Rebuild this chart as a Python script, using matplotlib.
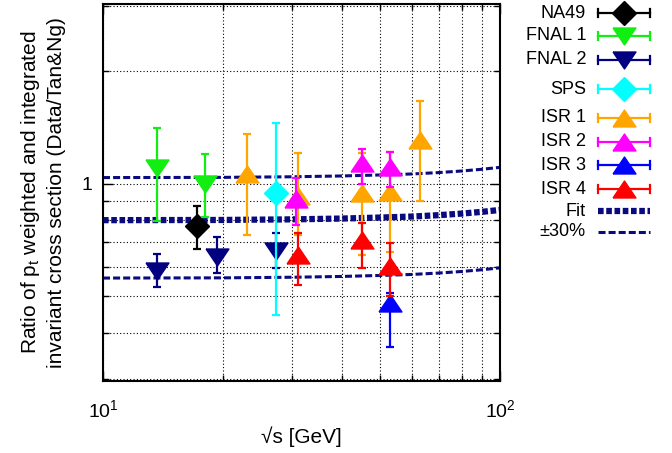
import matplotlib
matplotlib.use("Agg")
import numpy as np
from matplotlib import pyplot as plt
from matplotlib.ticker import LogLocator, FixedLocator, NullFormatter, FixedFormatter

plt.rcParams['font.family'] = ['Liberation Sans', 'DejaVu Sans']
plt.rcParams['mathtext.fontset'] = 'custom'
plt.rcParams['mathtext.rm'] = 'Liberation Sans'
plt.rcParams['mathtext.it'] = 'Liberation Sans:italic'

# data: sqrt(s), ratio, lower/upper error bar ends
na49_x = [17.2]
na49_y = [0.772]
na49_lo = [0.671]
na49_hi = [0.873]

fnal1_x = [13.7, 18.1]
fnal1_y = [1.10, 1.0]
fnal1_lo = [0.798, 0.818]
fnal1_hi = [1.41, 1.20]

fnal2_x = [13.7, 19.4, 27.3]
fnal2_y = [0.586, 0.639, 0.662]
fnal2_lo = [0.529, 0.577, 0.597]
fnal2_hi = [0.649, 0.719, 0.741]

sps_x = [27.3]
sps_y = [0.948]
sps_lo = [0.447]
sps_hi = [1.46]

isr1_x = [23.0, 30.9, 44.9, 52.8, 62.9]
isr1_y = [1.06, 0.93, 0.948, 0.954, 1.31]
isr1_lo = [0.729, 0.73, 0.646, 0.656, 0.90]
isr1_hi = [1.36, 1.21, 1.21, 1.22, 1.67]

isr2_x = [30.6, 44.9, 52.8]
isr2_y = [0.91, 1.136, 1.11]
isr2_lo = [0.777, 1.0, 0.983]
isr2_hi = [1.036, 1.24, 1.22]

isr3_x = [52.8]
isr3_y = [0.48]
isr3_lo = [0.367]
isr3_hi = [0.51]

isr4_x = [30.9, 44.9, 52.8]
isr4_y = [0.645, 0.708, 0.605]
isr4_lo = [0.537, 0.597, 0.50]
isr4_hi = [0.738, 0.785, 0.697]

fit_x = [10, 20, 30, 40, 50, 60, 70, 80, 90, 100]
fit_y = [0.800, 0.801, 0.804, 0.808, 0.813, 0.818, 0.825, 0.833, 0.842, 0.852]
band = 0.30

# gnuplot-like flat triangles
tri_up = [(-1, -0.74), (1, -0.74), (0, 0.74), (-1, -0.74)]
tri_dn = [(-1, 0.74), (1, 0.74), (0, -0.74), (-1, 0.74)]

series = [
    ("NA49", na49_x, na49_y, na49_lo, na49_hi, "black", "D"),
    ("FNAL 1", fnal1_x, fnal1_y, fnal1_lo, fnal1_hi, "#11ee11", tri_dn),
    ("FNAL 2", fnal2_x, fnal2_y, fnal2_lo, fnal2_hi, "#000080", tri_dn),
    ("SPS", sps_x, sps_y, sps_lo, sps_hi, "#00ffff", "D"),
    ("ISR 1", isr1_x, isr1_y, isr1_lo, isr1_hi, "#ffa500", tri_up),
    ("ISR 2", isr2_x, isr2_y, isr2_lo, isr2_hi, "#ff00ff", tri_up),
    ("ISR 3", isr3_x, isr3_y, isr3_lo, isr3_hi, "#0000ff", tri_up),
    ("ISR 4", isr4_x, isr4_y, isr4_lo, isr4_hi, "#ff0000", tri_up),
]

def msize(mk):
    return 11.8 if isinstance(mk, str) else 16.5

fs = 13
navy = "#0a0a80"
fit_style = dict(color=navy, lw=4.5, dashes=(0.9, 0.42))
band_style = dict(color=navy, lw=2.2, dashes=(2.3, 1.0))

fig = plt.figure(figsize=(6.72, 4.53), dpi=100)
ax = fig.add_axes([103 / 672, 1 - 381 / 453, 397 / 672, 377 / 453])

fx = np.array(fit_x, dtype=float)
fy = np.array(fit_y)
ax.plot(fx, fy, zorder=2, **fit_style)
ax.plot(fx, fy * (1 + band), zorder=2, **band_style)
ax.plot(fx, fy * (1 - band), zorder=2, **band_style)

for name, x, y, lo, hi, col, mk in series:
    y = np.array(y)
    yerr = [y - np.array(lo), np.array(hi) - y]
    ax.errorbar(x, y, yerr=yerr, fmt="none", ecolor=col, elinewidth=1.6,
                capsize=2.8, capthick=1.6, zorder=3)
    ax.plot(x, y, ls="none", marker=mk, color=col, mec=col, ms=msize(mk), zorder=3)

ax.set_xscale("log")
ax.set_yscale("log")
ax.set_xlim(10, 100)
ax.set_ylim(0.297, 3.03)

ax.xaxis.set_major_locator(FixedLocator([10, 100]))
ax.xaxis.set_major_formatter(FixedFormatter([r"$10^1$", r"$10^2$"]))
ax.xaxis.set_minor_locator(LogLocator(base=10, subs=np.arange(2, 10)))
ax.xaxis.set_minor_formatter(NullFormatter())
ax.yaxis.set_major_locator(FixedLocator([1]))
ax.yaxis.set_major_formatter(FixedFormatter(["1"]))
ax.yaxis.set_minor_locator(FixedLocator([0.3, 0.4, 0.5, 0.6, 0.7, 0.8, 0.9, 2, 3]))
ax.yaxis.set_minor_formatter(NullFormatter())

ax.tick_params(which="both", direction="in", top=True, right=True, labelsize=14,
               width=1)
ax.tick_params(which="major", length=7)
ax.tick_params(which="minor", length=4)
ax.tick_params(axis="x", which="major", pad=13)
ax.tick_params(axis="y", which="major", pad=8)
ax.grid(True, which="both", color="black", ls=(0, (1, 2)), lw=0.8)
for s in ax.spines.values():
    s.set_linewidth(1.5)

ax.set_xlabel("\u221as [GeV]", fontsize=15, labelpad=4)
ax.set_ylabel("Ratio of p$_\\mathrm{t}$ weighted and integrated\ninvariant cross section (Data/Tan&Ng)",
              fontsize=15, labelpad=11, linespacing=1.3)

# legend drawn by hand, gnuplot style (label, then line with caps and marker)
lg = fig.add_axes([0, 0, 1, 1], facecolor="none")
lg.set_xlim(0, 672)
lg.set_ylim(453, 0)
lg.axis("off")
rows = [13, 36, 60, 89, 118, 142, 165, 189]
x0, x1, xm = 598, 650, 624
for (name, x, y, lo, hi, col, mk), ry in zip(series, rows):
    lg.text(586, ry, name, ha="right", va="center", fontsize=fs)
    lg.plot([x0, x1], [ry, ry], color=col, lw=1.6)
    lg.plot([x0, x0], [ry - 4, ry + 4], color=col, lw=1.6)
    lg.plot([x1, x1], [ry - 4, ry + 4], color=col, lw=1.6)
    lg.plot([xm], [ry], marker=mk, color=col, mec=col, ms=msize(mk))
lg.text(586, 211, "Fit", ha="right", va="center", fontsize=fs)
lg.plot([x0, x1], [211, 211], **fit_style)
lg.text(586, 232, "\u00b130%", ha="right", va="center", fontsize=fs)
lg.plot([x0, x1], [232, 232], **band_style)

fig.savefig("out.png", dpi=100)
